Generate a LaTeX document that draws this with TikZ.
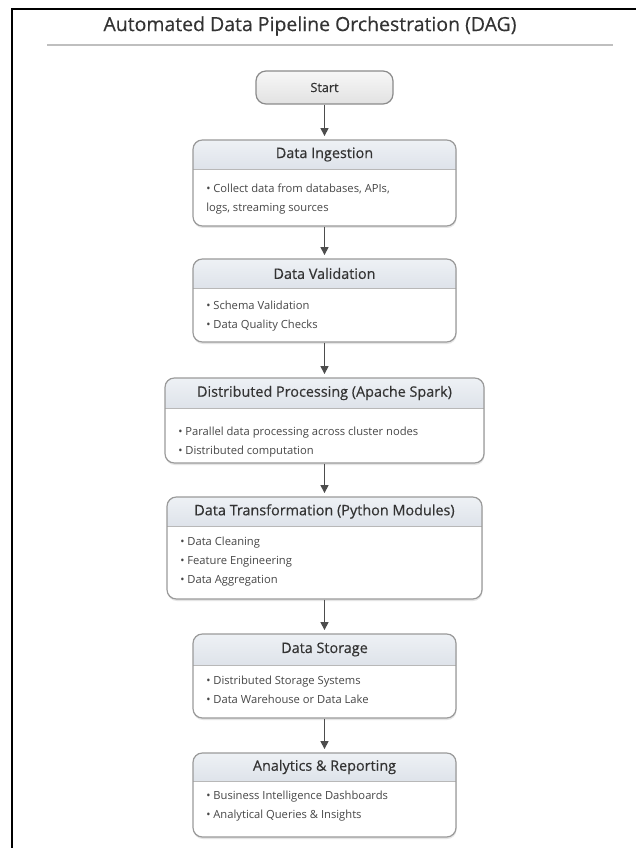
\documentclass[tikz,border=0pt]{standalone}
\usepackage{fontspec}
\setmainfont{Open Sans}
\newfontfamily\headfont[FakeBold=0.35]{Open Sans}
\usetikzlibrary{arrows.meta,fit}
\definecolor{hdrtop}{HTML}{EEF1F5}
\definecolor{hdrbot}{HTML}{DEE3EA}
\definecolor{boxline}{HTML}{9A9A9A}
\definecolor{txt}{HTML}{333333}
\definecolor{arrowc}{HTML}{4D4D4D}
\definecolor{starttop}{HTML}{F7F7F7}
\definecolor{startbot}{HTML}{E2E2E2}
\tikzset{
  stagebox/.style={draw=boxline, line width=0.9pt, rounded corners=7pt, inner sep=0pt},
  headshade/.style={top color=hdrtop, bottom color=hdrbot},
  sepline/.style={draw=boxline!70, line width=0.6pt},
  headtext/.style={text=txt, font=\headfont\fontsize{10.8}{12}\selectfont, inner sep=0pt},
  bodytext/.style={text=txt!90, font=\fontsize{8.4}{14.25}\selectfont, align=left, anchor=north west, inner sep=0pt},
  titletext/.style={text=txt, font=\headfont\fontsize{14.6}{17}\selectfont, inner sep=0pt},
  startbox/.style={draw=boxline!90!black, line width=0.9pt, rounded corners=7.5pt, top color=starttop, bottom color=startbot,
    minimum width=102.75pt, minimum height=24.75pt, text=txt, font=\headfont\fontsize{9.5}{11}\selectfont},
  arr/.style={draw=arrowc, line width=1.1pt, -{Triangle[width=6pt,length=6pt]}, shorten >=2.5pt},
  shadowfill/.style={fill=black!10, rounded corners=7pt}
}
\newcommand{\stage}[9]{%
  \fill[shadowfill] ({#2+0.5},{#3+2}) rectangle ({#4+0.5},{#5+2});
  \begin{scope}
    \clip[rounded corners=7pt] (#2,#3) rectangle (#4,#5);
    \fill[white] (#2,#3) rectangle (#4,#5);
    \fill[headshade] (#2,#3) rectangle (#4,#6);
    \draw[sepline] (#2,#6) -- (#4,#6);
  \end{scope}
  \node[stagebox, fit={(#2,#3) (#4,#5)}] (#1) {};
  \node[headtext] (#1-h) at ({(#2+#4)/2},{(#3+#6)/2}) {#7};
  \node[bodytext] (#1-b) at ({#2+13},{#8-6}) {#9};
}
\begin{document}
\begin{tikzpicture}[x=0.75pt,y=-0.75pt]
\useasboundingbox (0,0) rectangle (636,848);
\fill[white] (0,0) rectangle (636,848);
% frame
\draw[black, line width=1.5pt] (12,848) -- (12,9.5) -- (636,9.5);
% title and rule
\node[titletext] (title) at (310,26) {Automated Data Pipeline Orchestration (DAG)};
\draw[black!25, line width=0.8pt] (47,45) -- (613,45);
% start
\node[startbox] (start) at (324.5,87.5) {Start};
% stages
\stage{ing}{193}{140}{456}{226}{169}{Data Ingestion}{190}{• Collect data from databases, APIs,\\logs, streaming sources}
\stage{val}{193}{259}{456}{342}{288}{Data Validation}{307}{• Schema Validation\\• Data Quality Checks}
\stage{spark}{165}{378}{484}{463}{408}{Distributed Processing (Apache Spark)}{433}{• Parallel data processing across cluster nodes\\• Distributed computation}
\stage{trans}{167}{497}{482}{599}{526}{Data Transformation (Python Modules)}{543}{• Data Cleaning\\• Feature Engineering\\• Data Aggregation}
\stage{store}{193}{634}{456}{718}{665}{Data Storage}{682}{• Distributed Storage Systems\\• Data Warehouse or Data Lake}
\stage{ana}{193}{753}{456}{837}{781}{Analytics \& Reporting}{797}{• Business Intelligence Dashboards\\• Analytical Queries \& Insights}
% connectors
\draw[arr] (start.south) -- (ing.north);
\draw[arr] (ing.south) -- (val.north);
\draw[arr] (val.south) -- (spark.north);
\draw[arr] (spark.south) -- (trans.north);
\draw[arr] (trans.south) -- (store.north);
\draw[arr] (store.south) -- (ana.north);
\end{tikzpicture}
\end{document}
